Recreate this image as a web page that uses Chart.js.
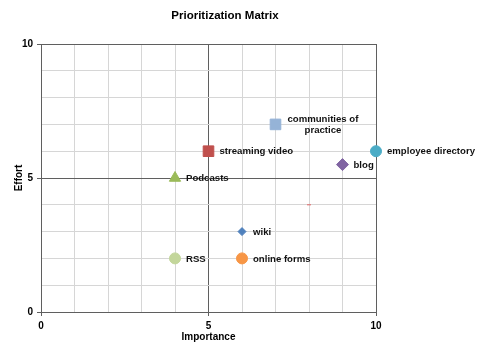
<!DOCTYPE html>
<html>
<head>
<meta charset="utf-8">
<script src="https://cdn.jsdelivr.net/npm/chart.js@4/dist/chart.umd.min.js"></script>
<style>
  html, body { margin: 0; padding: 0; background: #fff; }
  #wrap { width: 485px; height: 352px; }
</style>
</head>
<body>
<div id="wrap"><canvas id="matrix" width="485" height="352"></canvas></div>
<script>
// items on the matrix
const itemNames = ["communities of|practice", "streaming video", "employee directory", "blog", "Podcasts", "wiki", "RSS", "online forms", ""];
const importance = [7, 5, 10, 9, 4, 6, 4, 6, 8];
const effort = [7, 6, 6, 5.5, 5, 3, 2, 2, 4];
const markerColors = ["#95B3D7", "#C0504D", "#4BACC6", "#8064A2", "#9BBB59", "#4F81BD", "#C3D69B", "#F79646", "#E06666"];
const markerStyles = ["rect", "rect", "circle", "rectRot", "triangle", "rectRot", "circle", "circle", "line"];
const markerSizes = [7.5, 7.5, 5.5, 6, 6.5, 4, 5.5, 5.5, 2];
const axisTicks = [0, 5, 10];

const datasets = itemNames.map((name, i) => ({
    label: name,
    data: [{ x: importance[i], y: effort[i] }],
    pointStyle: markerStyles[i],
    pointRadius: markerSizes[i],
    pointHoverRadius: markerSizes[i],
    backgroundColor: markerColors[i],
    borderColor: markerColors[i],
    borderWidth: 1,
    clip: false
}));

// labels next to markers + title over the plot
const labelPlugin = {
    id: "pointLabels",
    afterDatasetsDraw(chart) {
        const ctx = chart.ctx;
        ctx.save();
        ctx.fillStyle = "#111";
        ctx.font = "bold 9.6px 'Liberation Sans', Arial, sans-serif";
        ctx.textBaseline = "middle";
        chart.data.datasets.forEach((ds, i) => {
            if (!ds.label) return;
            const pt = chart.getDatasetMeta(i).data[0];
            const lines = ds.label.split("|");
            if (lines.length > 1) {
                ctx.textAlign = "left";
                ctx.fillText(lines[0], pt.x + 12, pt.y - 5);
                const w = ctx.measureText(lines[0]).width;
                ctx.textAlign = "center";
                ctx.fillText(lines[1], pt.x + 12 + w / 2, pt.y + 6);
            } else {
                ctx.textAlign = "left";
                ctx.fillText(lines[0], pt.x + 11, pt.y + 0.5);
            }
        });
        ctx.font = "bold 11.5px 'Liberation Sans', Arial, sans-serif";
        ctx.textAlign = "center";
        ctx.fillStyle = "#000";
        ctx.fillText("Prioritization Matrix", 225, 16);
        ctx.restore();
    }
};

const gridColor = ctx => (ctx.tick && axisTicks.includes(ctx.tick.value)) ? "#5f5f5f" : "#d6d6d6";
const tickMarkColor = ctx => (ctx.tick && axisTicks.includes(ctx.tick.value)) ? "#5f5f5f" : "rgba(0,0,0,0)";

new Chart(document.getElementById("matrix"), {
    type: "scatter",
    data: { datasets: datasets },
    plugins: [labelPlugin],
    options: {
        responsive: false,
        animation: false,
        layout: { padding: { left: 13, top: 44, right: 109, bottom: 9 } },
        plugins: {
            legend: { display: false },
            tooltip: { enabled: false },
            title: { display: false }
        },
        scales: {
            x: {
                type: "linear",
                min: 0, max: 10,
                afterFit: s => { s.height = 31; },
                ticks: {
                    stepSize: 1,
                    autoSkip: false,
                    maxRotation: 0,
                    padding: 4,
                    color: "#000",
                    font: { family: "'Liberation Sans', Arial, sans-serif", size: 10, weight: "bold" },
                    callback: v => axisTicks.includes(v) ? String(v) : ""
                },
                grid: { color: gridColor, tickColor: tickMarkColor, tickLength: 4, lineWidth: 1 },
                border: { color: "#5f5f5f" },
                title: {
                    display: true,
                    text: "Importance",
                    color: "#000",
                    padding: { top: 0, bottom: 0 },
                    font: { family: "'Liberation Sans', Arial, sans-serif", size: 10, weight: "bold" }
                }
            },
            y: {
                type: "linear",
                min: 0, max: 10,
                afterFit: s => { s.width = 28; },
                ticks: {
                    stepSize: 1,
                    autoSkip: false,
                    padding: 4,
                    color: "#000",
                    font: { family: "'Liberation Sans', Arial, sans-serif", size: 10, weight: "bold" },
                    callback: v => axisTicks.includes(v) ? String(v) : ""
                },
                grid: { color: gridColor, tickColor: tickMarkColor, tickLength: 4, lineWidth: 1 },
                border: { color: "#5f5f5f" },
                title: {
                    display: true,
                    text: "Effort",
                    color: "#000",
                    padding: { top: 0, bottom: 2 },
                    font: { family: "'Liberation Sans', Arial, sans-serif", size: 10, weight: "bold" }
                }
            }
        }
    }
});
</script>
</body>
</html>
